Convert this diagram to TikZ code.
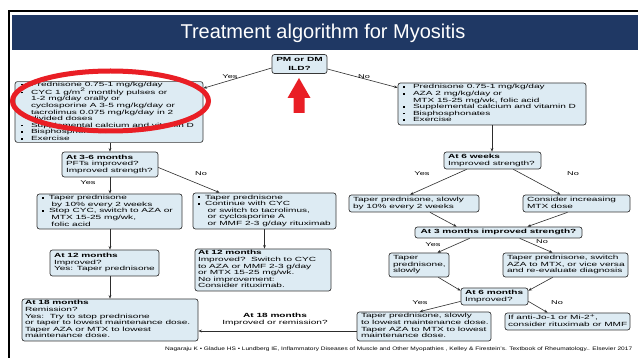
\documentclass[tikz,border=0pt]{standalone}
\usepackage{fontspec}
\usepackage{graphicx}
\setmainfont{Liberation Sans}
\newfontfamily\dfont[FakeStretch=1.68]{Liberation Sans}
\usetikzlibrary{arrows.meta,calc}
\definecolor{navy}{RGB}{31,56,100}
\definecolor{boxfill}{RGB}{221,235,243}
\definecolor{boxline}{RGB}{55,55,55}
\definecolor{arrowc}{RGB}{45,45,45}
\definecolor{redc}{RGB}{233,30,37}
\newcommand\bula{\makebox[10pt][l]{\rule[0.9pt]{1.8pt}{1.8pt}}}
\newcommand\conta{\hspace*{10pt}}
\newcommand\bulb{\makebox[7pt][l]{\rule[0.9pt]{1.8pt}{1.8pt}}}
\newcommand\contb{\hspace*{9.5pt}}
\newcommand\boxtxt[3][4pt]{\makebox[#2][l]{\hspace{#1}\begin{tabular}{@{}l@{}}#3\end{tabular}}}
\newcommand\boxtxtc[2]{\makebox[#1][c]{\begin{tabular}{@{}c@{}}#2\end{tabular}}}
\tikzset{
  box/.style={draw=boxline, fill=boxfill, rounded corners=2.5pt, line width=0.7pt,
    inner sep=0pt, font=\dfont\fontsize{6}{6.6}\selectfont},
  conn/.style={draw=arrowc, line width=0.6pt, -{Stealth[length=3.6pt,width=2.8pt]}},
  lab/.style={font=\dfont\fontsize{5.5}{6}\selectfont, inner sep=0pt},
}
\begin{document}
\begin{tikzpicture}[x=1pt,y=-1pt]
\useasboundingbox (0,0) rectangle (638,358);
\fill[white] (0,0) rectangle (638,358);
% frame and title bar
\draw[line width=2pt] (9,358) -- (9,11) -- (638,11);
\fill[navy] (12,15) rectangle (638,50);
\node[font=\fontsize{20}{24}\selectfont, text=white, inner sep=0pt] (title) at (323,33) {Treatment algorithm for Myositis};

% boxes
\node[box, minimum width=55pt, minimum height=18pt, font=\dfont\bfseries\fontsize{6}{9.5}\selectfont] (pm) at (299.5,64) {\boxtxtc{55pt}{PM or DM\\ILD?}};

\node[box, minimum width=188pt, minimum height=60pt] (b1) at (109,112) {\boxtxt[6pt]{188pt}{%
\bula Prednisone 0.75-1 mg/kg/day\\
\bula CYC 1 g/m\textsuperscript{2} monthly pulses or\\
\conta 1-2 mg/day orally or\\
\conta cyclosporine A 3-5 mg/kg/day or\\
\conta tacrolimus 0.075 mg/kg/day in 2\\
\conta divided doses\\
\bula Supplemental calcium and vitamin D\\
\bula Bisphosphonates\\
\bula Exercise}};

\node[box, minimum width=188pt, minimum height=42pt] (b2) at (492,104) {\boxtxt[5pt]{188pt}{%
\bula Prednisone 0.75-1 mg/kg/day\\
\bula AZA 2 mg/kg/day or\\
\conta MTX 15-25 mg/wk, folic acid\\
\bula Supplemental calcium and vitamin D\\
\bula Bisphosphonates\\
\bula Exercise}};

\node[box, minimum width=96pt, minimum height=25pt] (a36) at (110,164.5) {\boxtxt{96pt}{%
\textbf{At 3-6 months}\\PFTs improved?\\Improved strength?}};

\node[box, minimum width=145pt, minimum height=35pt] (tl) at (109.5,211.5) {\boxtxt[5pt]{145pt}{%
\bulb Taper prednisone\\
\contb by 10\% every 2 weeks\\
\bulb Stop CYC, switch to AZA or\\
\contb MTX 15-25 mg/wk,\\
\contb folic acid}};

\node[box, minimum width=143pt, minimum height=36pt] (cc) at (264.5,211) {\boxtxt[5pt]{143pt}{%
\bulb Taper prednisone\\
\bulb Continue with CYC\\
\contb or switch to tacrolimus,\\
\contb or cyclosporine A\\
\contb or MMF 2-3 g/day rituximab}};

\node[box, minimum width=109pt, minimum height=26pt] (l12) at (104.5,263) {\boxtxt{109pt}{%
\textbf{At 12 months}\\Improved?\\Yes: Taper prednisone}};

\node[box, minimum width=136pt, minimum height=42pt] (r12) at (263,270) {\boxtxt[3pt]{136pt}{%
\textbf{At 12 months}\\Improved?\ \ Switch to CYC\\to AZA or MMF 2-3 g/day\\or MTX 15-25 mg/wk.\\No improvement:\\Consider rituximab.}};

\node[box, minimum width=176pt, minimum height=42pt] (l18) at (110,320) {\boxtxt[3pt]{176pt}{%
\textbf{At 18 months}\\Remission?\\Yes:\ \ Try to stop prednisone\\or taper to lowest maintenance dose.\\Taper AZA or MTX to lowest\\maintenance dose.}};

\node[box, minimum width=97pt, minimum height=17pt, font=\dfont\fontsize{6}{7}\selectfont] (w6) at (492.5,160.5) {\boxtxt{97pt}{%
\textbf{At 6 weeks}\\Improved strength?}};

\node[box, minimum width=130pt, minimum height=17pt, font=\dfont\fontsize{6}{7}\selectfont] (tps) at (414,203.5) {\boxtxt{130pt}{%
Taper prednisone, slowly\\by 10\% every 2 weeks}};

\node[box, minimum width=107pt, minimum height=17pt, font=\dfont\fontsize{6}{7}\selectfont] (cim) at (576.5,203.5) {\boxtxt{107pt}{%
Consider increasing\\MTX dose}};

\node[box, minimum width=167pt, minimum height=11pt, font=\dfont\bfseries\fontsize{6}{6.6}\selectfont] (a3) at (498.5,232.5) {\boxtxtc{167pt}{At 3 months improved strength?}};

\node[box, minimum width=60pt, minimum height=24pt] (tp3) at (419,265) {\boxtxt{60pt}{%
Taper\\prednisone,\\slowly}};

\node[box, minimum width=125pt, minimum height=24pt] (sw) at (565.5,265) {\boxtxt{125pt}{%
Taper prednisone, switch\\AZA to MTX, or vice versa\\and re-evaluate diagnosis}};

\node[box, minimum width=67pt, minimum height=17pt, font=\dfont\fontsize{6}{7}\selectfont] (a6) at (494.5,296.5) {\boxtxt{67pt}{%
\textbf{At 6 months}\\Improved?}};

\node[box, minimum width=134pt, minimum height=29pt] (bl) at (424,326.5) {\boxtxt{134pt}{%
Taper prednisone, slowly\\to lowest maintenance dose.\\Taper AZA to MTX to lowest\\maintenance dose.}};

\node[box, minimum width=125pt, minimum height=17pt, font=\dfont\fontsize{6}{7}\selectfont] (br) at (567.5,321.5) {\boxtxt[3pt]{125pt}{%
If anti-Jo-1 or Mi-2\textsuperscript{+},\\consider rituximab or MMF}};

% connectors
\coordinate (h18) at (0,331);
\draw[conn] ($(pm.west)+(0,4)$) -- ($(b1.north east)+(0,7)$);
\draw[conn] ($(pm.east)+(0,5)$) -- ($(b2.north west)+(0,5)$);
\draw[conn] (a36.north |- b1.south) -- (a36.north);
\draw[conn] (a36.south) -- (a36.south |- tl.north);
\draw[conn] ($(a36.east)+(0,3)$) -- ($(cc.north west)+(27,0)$);
\draw[conn] (a36.south |- tl.south) -- (a36.south |- l12.north);
\draw[conn] (a36.south |- l12.south) -- (a36.south |- l18.north);
\draw[conn] (cc.south) -- (cc.south |- r12.north);
\draw[conn] (b2.south) -- (b2.south |- w6.north);
\draw[conn] ($(w6.south west)+(23,0)$) -- ($(tps.north)+(-4,0)$);
\draw[conn] ($(w6.south east)+(-28,0)$) -- ($(cim.north)+(-16,0)$);
\draw[conn] ($(tps.south)+(16,0)$) -- ($(a3.north west)+(42,0)$);
\draw[conn] ($(cim.south)+(-9,0)$) -- ($(a3.north east)+(-55,0)$);
\draw[conn] ($(a3.south west)+(55,0)$) -- ($(tp3.north east)+(-12,0)$);
\draw[conn] ($(a3.south west)+(105,0)$) -- ($(sw.north west)+(50,0)$);
\draw[conn] ($(tp3.south east)+(-11,0)$) -- ($(a6.north west)+(0,3)$);
\draw[conn] ($(sw.south west)+(50,0)$) -- ($(a6.north east)+(0,3)$);
\draw[conn] ($(a6.south west)+(0,-4)$) -- ($(bl.north west)+(63,0)$);
\draw[conn] ($(a6.south east)+(0,-4)$) -- ($(br.north west)+(43,0)$);
\draw[conn] (bl.west |- h18) -- (l18.east |- h18);

% labels
\node[lab] (y1) at (230,77) {Yes};
\node[lab] (n1) at (364,77) {No};
\node[lab] (y2) at (88,183) {Yes};
\node[lab] (n2) at (201,174) {No};
\node[lab] (y3) at (422,174) {Yes};
\node[lab] (n3) at (573,174) {No};
\node[lab] (y4) at (433,245) {Yes};
\node[lab] (n4) at (542,242) {No};
\node[lab] (y5) at (420,303) {Yes};
\node[lab] (n5) at (557,303) {No};
\node[lab, align=center, font=\dfont\fontsize{6}{7}\selectfont] (r18) at (275,319.5) {\textbf{At 18 months}\\Improved or remission?};

% source line
\node[anchor=west, inner sep=0pt] (src) at (165,349) {\resizebox{467pt}{\height}{\fontsize{5}{6}\selectfont Nagaraju K • Gladue HS • Lundberg IE, Inflammatory Diseases of Muscle and Other Myopathies , Kelley \& Firestein's. Textbook of Rheumatology.. Elsevier 2017}};

% red annotations
\draw[redc, line width=5pt] (110.5,101) ellipse [x radius=98, y radius=30];
\fill[redc] (299,78) -- (310.5,98) -- (304.5,98) -- (304.5,113) -- (293.5,113) -- (293.5,98) -- (287.5,98) -- cycle;
\end{tikzpicture}
\end{document}
